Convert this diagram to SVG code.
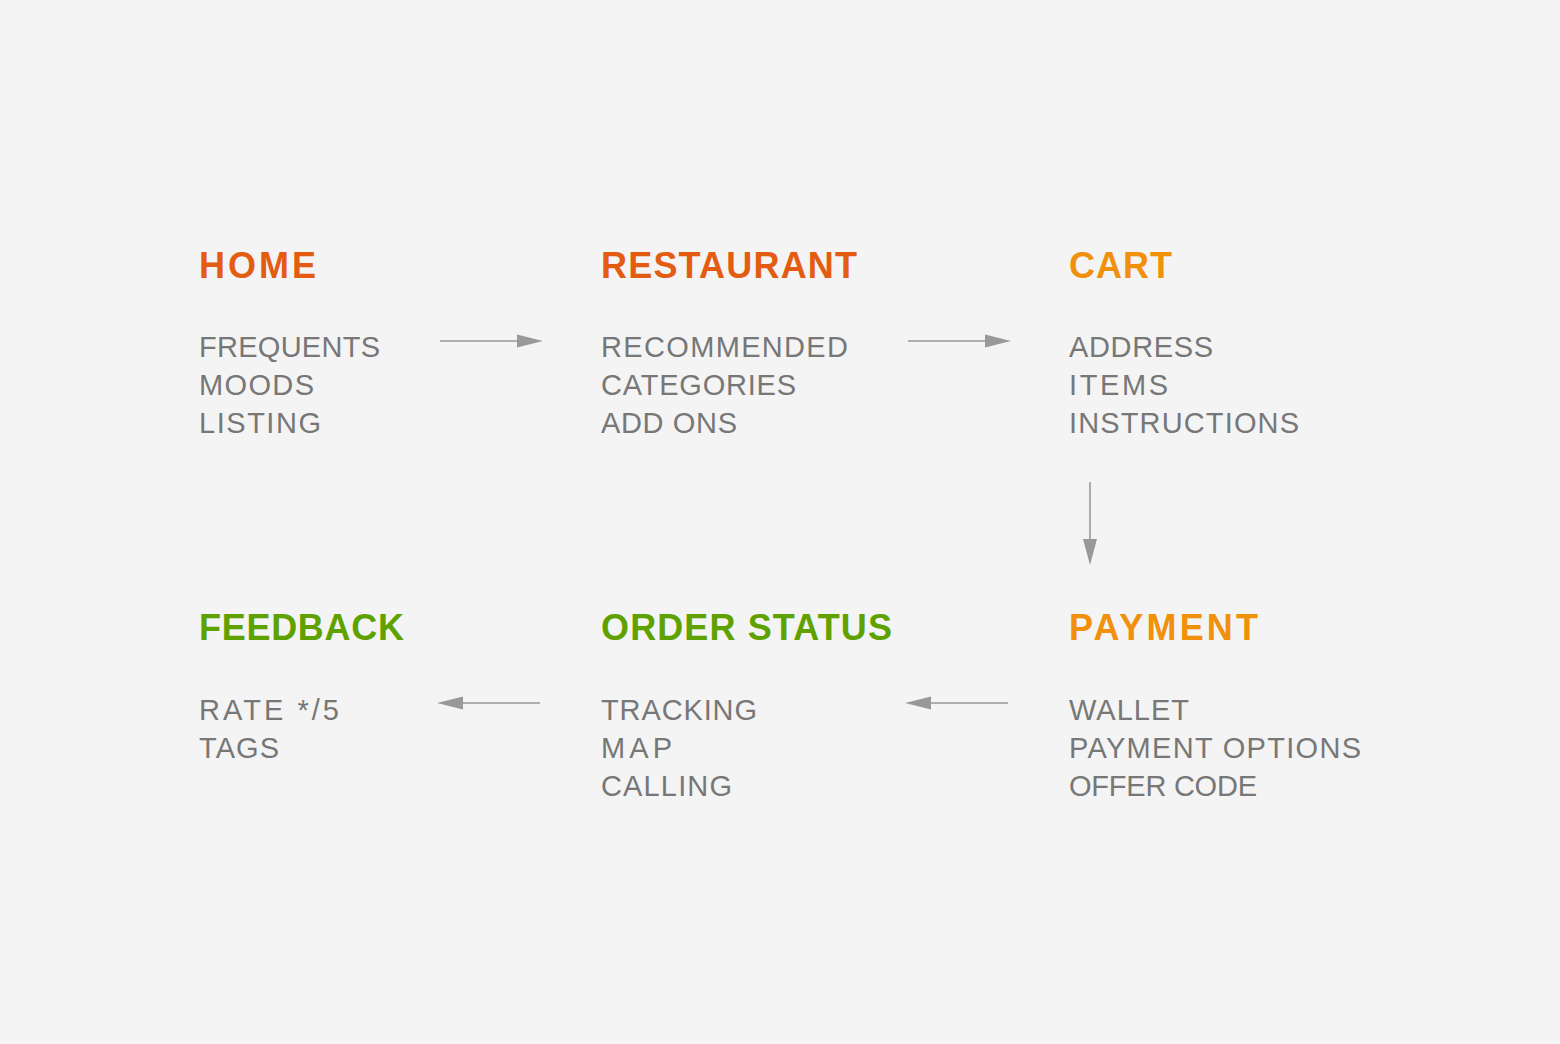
<svg xmlns="http://www.w3.org/2000/svg" width="1560" height="1044" viewBox="0 0 1560 1044">
<style>
.h{font-family:"Liberation Sans",Arial,sans-serif;font-weight:bold;font-size:36px}
.b{font-family:"Liberation Sans",Arial,sans-serif;font-size:29px;fill:#777}
.red{fill:#E35C12}
.org{fill:#F0900B}
.grn{fill:#5FA200}
.ln{stroke:#999;stroke-width:1.6;fill:none}
.ah{fill:#999}
</style>
<rect width="1560" height="1044" fill="#F4F4F4"/>
<g id="home">
<text class="h red" x="199" y="278" textLength="117">HOME</text>
<text class="b" x="199" y="357" textLength="181">FREQUENTS</text>
<text class="b" x="199" y="395" textLength="115">MOODS</text>
<text class="b" x="199" y="433" textLength="122">LISTING</text>
</g>
<g id="restaurant">
<text class="h red" x="601" y="278" textLength="256">RESTAURANT</text>
<text class="b" x="601" y="357" textLength="247">RECOMMENDED</text>
<text class="b" x="601" y="395" textLength="195">CATEGORIES</text>
<text class="b" x="601" y="433" textLength="136">ADD ONS</text>
</g>
<g id="cart">
<text class="h org" x="1069" y="278" textLength="103">CART</text>
<text class="b" x="1069" y="357" textLength="144">ADDRESS</text>
<text class="b" x="1069" y="395" textLength="99">ITEMS</text>
<text class="b" x="1069" y="433" textLength="230">INSTRUCTIONS</text>
</g>
<g id="payment">
<text class="h org" x="1069" y="640" textLength="189">PAYMENT</text>
<text class="b" x="1069" y="720" textLength="120">WALLET</text>
<text class="b" x="1069" y="758" textLength="292">PAYMENT OPTIONS</text>
<text class="b" x="1069" y="796" textLength="188">OFFER CODE</text>
</g>
<g id="order-status">
<text class="h grn" x="601" y="640" textLength="291">ORDER STATUS</text>
<text class="b" x="601" y="720" textLength="156">TRACKING</text>
<text class="b" x="601" y="758" textLength="71">MAP</text>
<text class="b" x="601" y="796" textLength="131">CALLING</text>
</g>
<g id="feedback">
<text class="h grn" x="199" y="640" textLength="205">FEEDBACK</text>
<text class="b" x="199" y="720" textLength="140">RATE */5</text>
<text class="b" x="199" y="758" textLength="80">TAGS</text>
</g>
<g id="connectors">
<line class="ln" x1="440" y1="341" x2="520" y2="341"/>
<polygon class="ah" points="543,341 517,334.5 517,347.5"/>
<line class="ln" x1="908" y1="341" x2="988" y2="341"/>
<polygon class="ah" points="1011,341 985,334.5 985,347.5"/>
<line class="ln" x1="1090" y1="482" x2="1090" y2="542"/>
<polygon class="ah" points="1090,565 1083,539 1097,539"/>
<line class="ln" x1="1008" y1="703" x2="928" y2="703"/>
<polygon class="ah" points="905,703 931,696.5 931,709.5"/>
<line class="ln" x1="540" y1="703" x2="460" y2="703"/>
<polygon class="ah" points="437,703 463,696.5 463,709.5"/>
</g>
</svg>
